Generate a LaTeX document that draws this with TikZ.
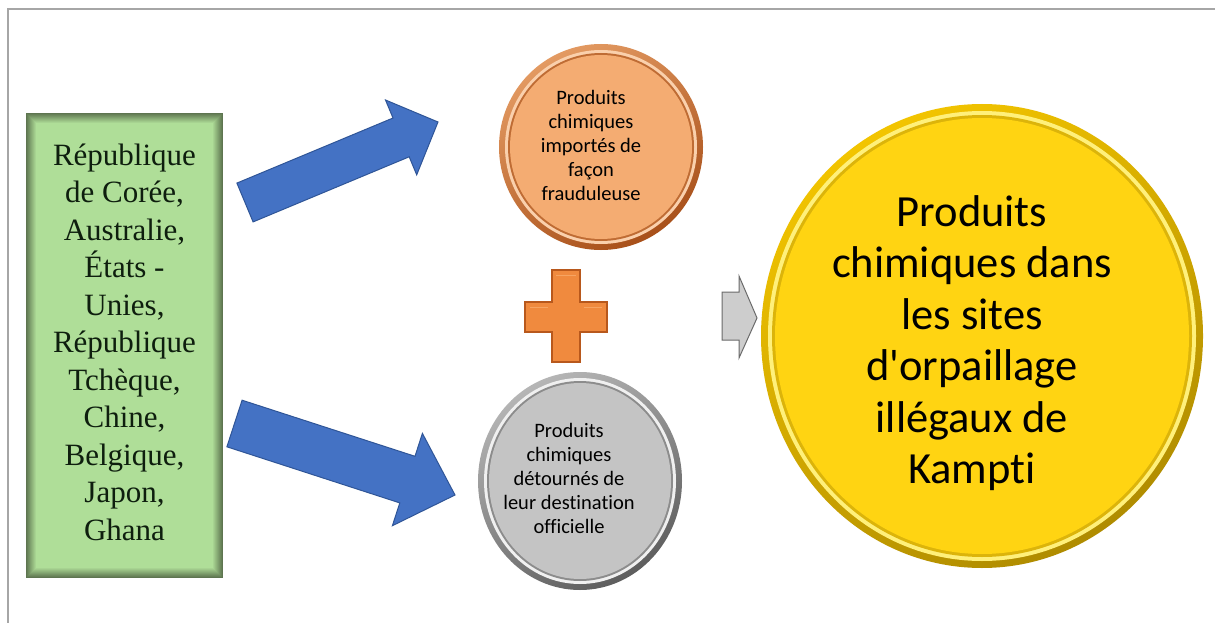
\documentclass[tikz,border=0pt]{standalone}
\usepackage{fontspec}
\setmainfont{Liberation Serif}
\newfontfamily\calib[Ligatures={NoCommon}]{Carlito}
\usetikzlibrary{shapes.geometric}
\definecolor{framegray}{HTML}{A6A6A6}
\definecolor{boxin}{HTML}{AFDE98}
\definecolor{boxout}{HTML}{5E7550}
\definecolor{boxtext}{HTML}{0E1E0E}
\definecolor{bluefill}{HTML}{4472C4}
\definecolor{blueedge}{HTML}{2F5597}
\definecolor{orrimd}{HTML}{A8501A}
\definecolor{orriml}{HTML}{E39A62}
\definecolor{orhi}{HTML}{FAD0AC}
\definecolor{ormain}{HTML}{F4AC72}
\definecolor{grrimd}{HTML}{5E5E5E}
\definecolor{grriml}{HTML}{B5B5B5}
\definecolor{grhi}{HTML}{F0F0F0}
\definecolor{grmain}{HTML}{C4C4C4}
\definecolor{yerimd}{HTML}{B08C00}
\definecolor{yeriml}{HTML}{F2C400}
\definecolor{yehi}{HTML}{FFF07A}
\definecolor{yemain}{HTML}{FFD412}
\definecolor{plusfill}{HTML}{F08A3E}
\definecolor{plusedge}{HTML}{B8581C}
\definecolor{plushi}{HTML}{F6A462}
\definecolor{chevfill}{HTML}{CDCDCD}
\definecolor{chevedge}{HTML}{6A6A6A}
\tikzset{
  frameline/.style={draw=framegray, line width=2.5pt},
  blockarrow/.style={fill=bluefill, draw=blueedge, line width=1pt, line join=miter},
  smalltext/.style={font=\calib\fontsize{20.5}{24}\selectfont, align=center, text=black, inner sep=0pt},
  bigtext/.style={font=\calib\fontsize{44.5}{51.5}\selectfont, align=center, text=black, inner sep=0pt},
  srctext/.style={font=\fontsize{31}{37.5}\selectfont, align=center, text=boxtext, inner sep=0pt},
  core/.style={ellipse, inner sep=0pt}
}
\begin{document}
\begin{tikzpicture}[x=1pt,y=-1pt]
\useasboundingbox (0,0) rectangle (1215,623);
\fill[white] (0,0) rectangle (1215,623);
% frame
\coordinate (ftl) at (8,9);
\coordinate (ftr) at (1215,9);
\coordinate (fbl) at (8,623);
\draw[frameline] (ftr) -- (ftl) -- (fbl);

% green source box with soft dark edge
\foreach \i in {0,...,10}{
  \pgfmathtruncatemacro\p{\i*10}
  \fill[boxin!\p!boxout] (26+\i,113+\i) rectangle (223-\i,578-\i);
}
\node[srctext] (src) at (124.5,342) {République\\de Corée,\\Australie,\\États -\\Unies,\\République\\Tchèque,\\Chine,\\Belgique,\\Japon,\\Ghana};

% blue block arrows
\coordinate (a1t) at (236.9,183.1);
\fill[blockarrow] (a1t) -- (393.0,118.0) -- (385.5,100.0) -- (438.0,122.0) -- (416.7,174.8) -- (409.2,156.8) -- (253.1,221.9) -- cycle;
\coordinate (a2t) at (242.1,400.2);
\fill[blockarrow] (a2t) -- (415.0,456.3) -- (422.4,433.4) -- (455.0,495.0) -- (392.4,525.7) -- (399.8,502.9) -- (226.9,446.8) -- cycle;

% orange circle
\shade[top color=orriml, bottom color=orrimd, shading angle=30] (601,147) ellipse [x radius=102pt, y radius=103pt];
\fill[orhi] (601,147) ellipse [x radius=96pt, y radius=97pt];
\fill[orrimd!70!ormain] (601,147) ellipse [x radius=93pt, y radius=94pt];
\node[core, fill=ormain, minimum width=182pt, minimum height=184pt] (imp) at (601,147) {};
\node[smalltext] (impt) at (591,145) {Produits\\chimiques\\importés de\\façon\\frauduleuse};

% plus sign
\fill[fill=plusfill, draw=plusedge, line width=1.2pt] (552,270) -- (580,270) -- (580,302) -- (607,302) -- (607,332) -- (580,332) -- (580,362) -- (552,362) -- (552,332) -- (525,332) -- (525,302) -- (552,302) -- cycle;
\draw[plushi, line width=1pt] (556,275) -- (576,275) (530,307) -- (548,307) (584,307) -- (602,307);

% gray circle
\shade[top color=grriml, bottom color=grrimd, shading angle=30] (580,481) ellipse [x radius=102pt, y radius=109pt];
\fill[grhi] (580,481) ellipse [x radius=96pt, y radius=103pt];
\fill[grrimd!55!grmain] (580,481) ellipse [x radius=93pt, y radius=100pt];
\node[core, fill=grmain, minimum width=182pt, minimum height=196pt] (det) at (580,481) {};
\node[smalltext] (dett) at (569,478) {Produits\\chimiques\\détournés de\\leur destination\\officielle};

% gray chevron arrow
\fill[fill=chevfill, draw=chevedge, line width=1pt, line join=miter] (722,292) -- (739,292) -- (739,276) -- (757,318) -- (739,358) -- (739,340) -- (722,340) -- cycle;

% yellow circle
\shade[top color=yeriml, bottom color=yerimd, shading angle=30] (982,336) ellipse [x radius=221pt, y radius=232pt];
\fill[yehi] (982,336) ellipse [x radius=214pt, y radius=225pt];
\fill[yerimd!45!yemain] (982,336) ellipse [x radius=210pt, y radius=221pt];
\node[core, fill=yemain, minimum width=414pt, minimum height=436pt] (res) at (982,336) {};
\node[bigtext] (rest) at (972,343) {Produits\\chimiques dans\\les sites\\d'orpaillage\\illégaux de\\Kampti};
\end{tikzpicture}
\end{document}
